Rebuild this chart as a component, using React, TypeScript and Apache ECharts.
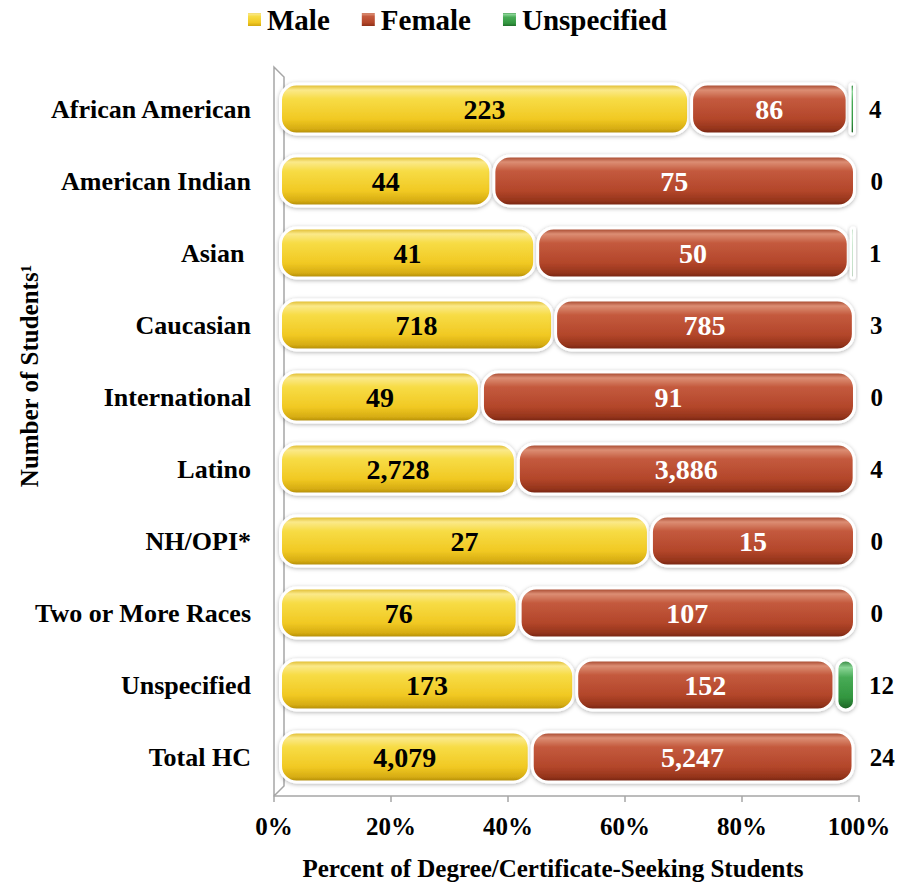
import React, { useEffect, useRef } from "react";
import * as echarts from "echarts";

const categories = [
  "African American",
  "American Indian",
  "Asian ",
  "Caucasian",
  "International",
  "Latino",
  "NH/OPI*",
  "Two or More Races",
  "Unspecified",
  "Total HC",
];
const maleCounts = [223, 44, 41, 718, 49, 2728, 27, 76, 173, 4079];
const femaleCounts = [86, 75, 50, 785, 91, 3886, 15, 107, 152, 5247];
const unspecCounts = [4, 0, 1, 3, 0, 4, 0, 0, 12, 24];
const seriesNames = ["Male", "Female", "Unspecified"];

const FONT = "Liberation Serif";

const totals = categories.map((_, i) => maleCounts[i] + femaleCounts[i] + unspecCounts[i]);
const pct = (arr: number[]) => arr.map((v, i) => (v / totals[i]) * 100);
const fmt = (v: number) => v.toLocaleString("en-US");

const grad = (stops: [number, string][]) =>
  new echarts.graphic.LinearGradient(
    0,
    0,
    0,
    1,
    stops.map(([offset, color]) => ({ offset, color }))
  );

const maleGrad = () =>
  grad([
    [0, "#d9b21a"],
    [0.12, "#fbe98a"],
    [0.3, "#f7dc45"],
    [0.7, "#f1c923"],
    [0.9, "#d6ac12"],
    [1, "#a8840c"],
  ]);
const femaleGrad = () =>
  grad([
    [0, "#9c3a20"],
    [0.12, "#dc8e74"],
    [0.3, "#c45a3e"],
    [0.7, "#b3462a"],
    [0.9, "#94341b"],
    [1, "#6e220e"],
  ]);
const greenGrad = () =>
  grad([
    [0, "#2a7d34"],
    [0.15, "#8ad596"],
    [0.35, "#48ab56"],
    [0.75, "#32963f"],
    [1, "#1a5e22"],
  ]);

export default function App() {
  const ref = useRef<HTMLDivElement>(null);

  useEffect(() => {
    if (!ref.current) return;
    const chart = echarts.init(ref.current, undefined, { renderer: "svg" });

    const baseItem = {
      borderRadius: 16,
      borderColor: "#ffffff",
      borderWidth: 3,
      shadowColor: "rgba(0,0,0,0.3)",
      shadowBlur: 4,
      shadowOffsetY: 1,
    };
    const labelFont = {
      fontFamily: FONT,
      fontWeight: "bold" as const,
      fontSize: 28,
    };

    chart.setOption({
      animation: false,
      backgroundColor: "#ffffff",
      textStyle: { fontFamily: FONT },
      legend: {
        data: seriesNames,
        left: 241,
        top: 0,
        itemWidth: 15,
        itemHeight: 15,
        itemGap: 30,
        icon: "rect",
        textStyle: { fontFamily: FONT, fontWeight: "bold", fontSize: 29, color: "#000" },
      },
      grid: [
        { left: 279, top: 73, width: 577, height: 720, containLabel: false },
        { left: 274, top: 73, width: 585, height: 723, containLabel: false },
      ],
      xAxis: [
        { gridIndex: 0, type: "value", min: 0, max: 100, show: false },
        {
          gridIndex: 1,
          type: "value",
          min: 0,
          max: 100,
          interval: 20,
          axisLine: { show: true, lineStyle: { color: "#a6a6a6", width: 1.5 } },
          axisTick: { show: true, length: 6, lineStyle: { color: "#a6a6a6", width: 1.5 } },
          splitLine: { show: false },
          axisLabel: {
            formatter: "{value}%",
            margin: 18,
            color: "#000",
            fontFamily: FONT,
            fontWeight: "bold",
            fontSize: 25,
          },
        },
      ],
      yAxis: [
        {
          gridIndex: 0,
          type: "category",
          data: categories,
          inverse: true,
          axisLine: { show: false },
          axisTick: { show: false },
          splitLine: { show: false },
          axisLabel: {
            margin: 28,
            color: "#000",
            fontFamily: FONT,
            fontWeight: "bold",
            fontSize: 26,
          },
        },
        { gridIndex: 1, type: "value", min: 0, max: 1, show: false },
      ],
      graphic: [
        {
          type: "polyline",
          shape: {
            points: [
              [274, 796],
              [274, 67],
              [284, 77],
              [284, 786],
              [274, 796],
            ],
          },
          style: { stroke: "#a6a6a6", lineWidth: 1.5, fill: "none" },
          z: 0,
        },
        {
          type: "text",
          x: 553,
          y: 868,
          style: {
            text: "Percent of Degree/Certificate-Seeking Students",
            font: `bold 25px "${FONT}"`,
            fill: "#000",
            align: "center",
            verticalAlign: "middle",
          },
        },
        {
          type: "text",
          x: 29,
          y: 376,
          rotation: Math.PI / 2,
          style: {
            text: "Number of Students¹",
            font: `bold 25px "${FONT}"`,
            fill: "#000",
            align: "center",
            verticalAlign: "middle",
          },
        },
      ],
      series: [
        {
          name: "Male",
          type: "bar",
          stack: "total",
          xAxisIndex: 0,
          yAxisIndex: 0,
          barWidth: 53,
          data: pct(maleCounts),
          itemStyle: { ...baseItem, color: maleGrad() },
          label: {
            show: true,
            position: "inside",
            color: "#000",
            ...labelFont,
            formatter: (p: any) => fmt(maleCounts[p.dataIndex]),
          },
        },
        {
          name: "Female",
          type: "bar",
          stack: "total",
          xAxisIndex: 0,
          yAxisIndex: 0,
          barWidth: 53,
          data: pct(femaleCounts),
          itemStyle: { ...baseItem, color: femaleGrad() },
          label: {
            show: true,
            position: "inside",
            color: "#fff",
            ...labelFont,
            formatter: (p: any) => fmt(femaleCounts[p.dataIndex]),
          },
        },
        {
          name: "Unspecified",
          type: "bar",
          stack: "total",
          xAxisIndex: 0,
          yAxisIndex: 0,
          barWidth: 53,
          data: pct(unspecCounts),
          itemStyle: { ...baseItem, color: greenGrad() },
          label: {
            show: true,
            position: "right",
            distance: 13,
            color: "#000",
            fontFamily: FONT,
            fontWeight: "bold",
            fontSize: 25,
            formatter: (p: any) => fmt(unspecCounts[p.dataIndex]),
          },
        },
      ],
    });

    return () => chart.dispose();
  }, []);

  return (
    <div
      ref={ref}
      style={{ position: "fixed", left: 0, top: 0, width: 898, height: 885, background: "#fff" }}
    />
  );
}
